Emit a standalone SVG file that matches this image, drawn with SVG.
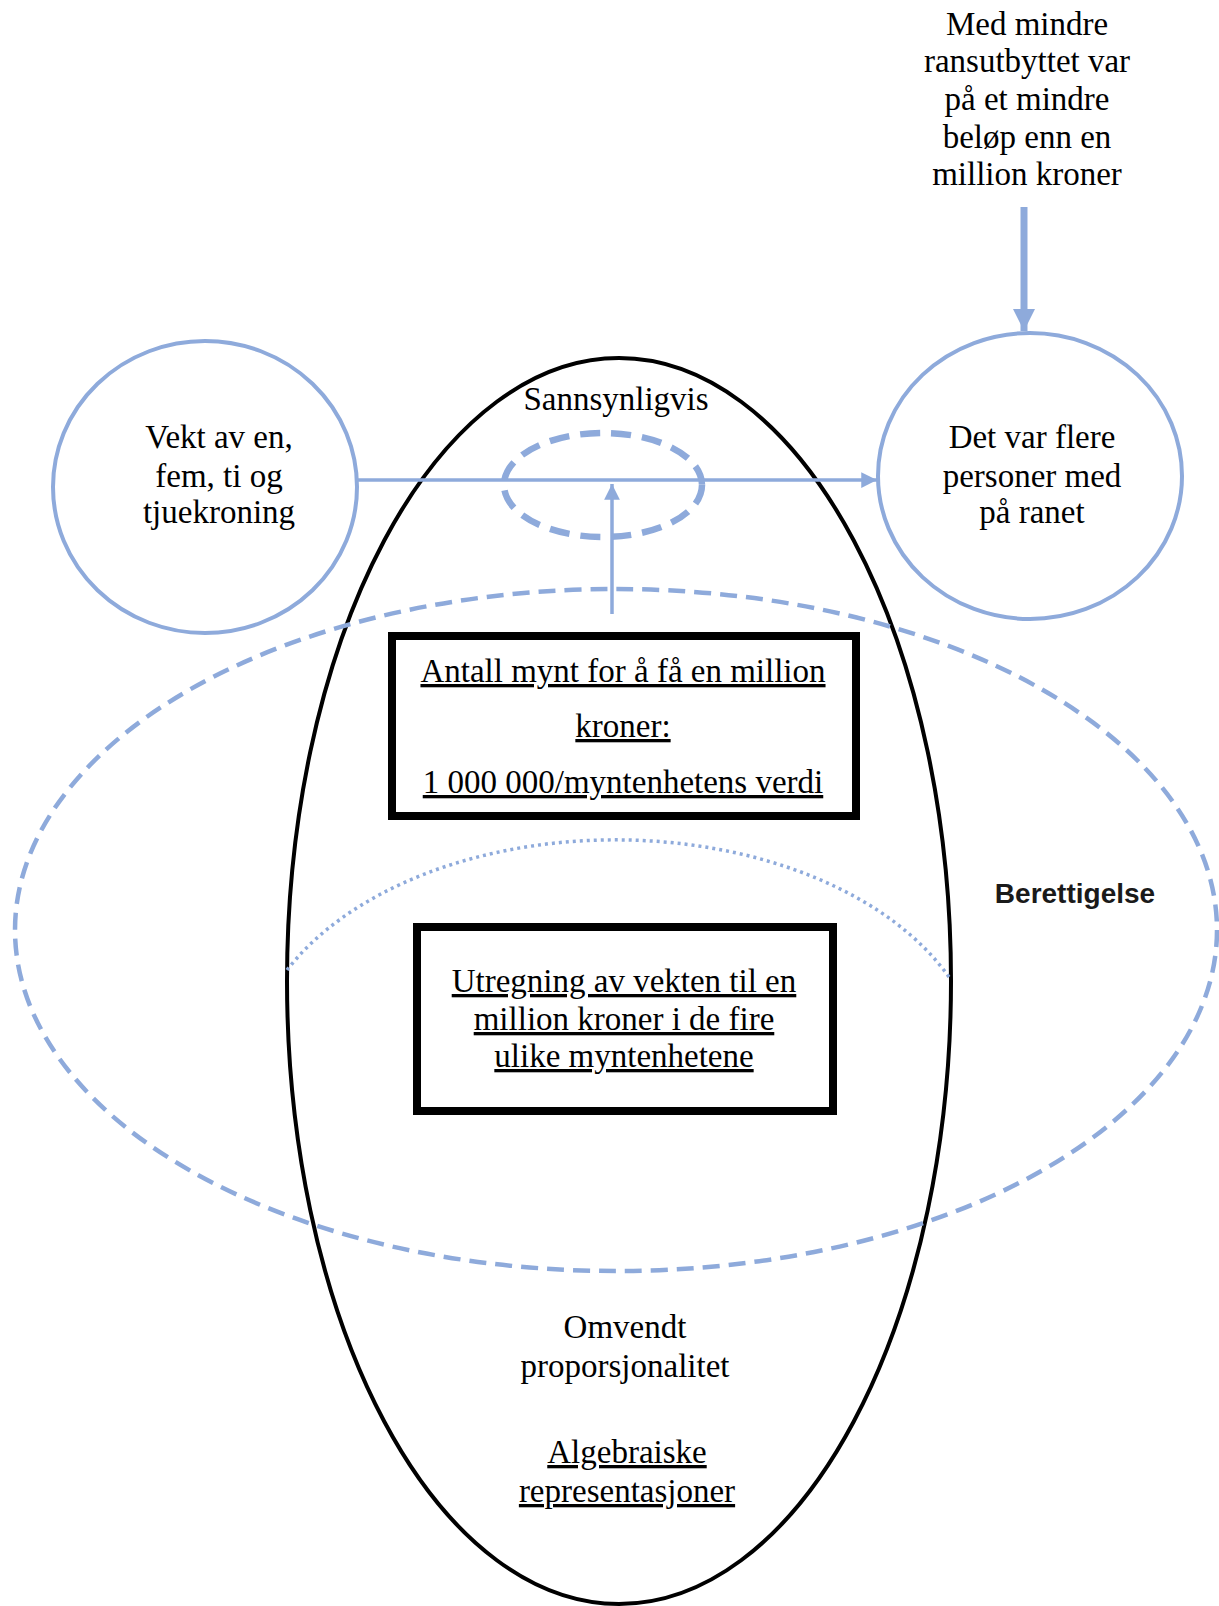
<svg xmlns="http://www.w3.org/2000/svg" width="1219" height="1606" viewBox="0 0 1219 1606">
  <style>
    .t { font-family: "Liberation Serif", "Times New Roman", serif; font-size: 33px; fill: #000; text-anchor: middle; }
    .u { text-decoration: underline; }
    .b { font-family: "Liberation Sans", Arial, sans-serif; font-size: 28px; font-weight: bold; fill: #1a1a1a; text-anchor: middle; }
    .blue { fill: none; stroke: #8eaadb; }
    .box { fill: #fff; stroke: #000; stroke-width: 8; }
  </style>
  <defs>
    <marker id="arr" viewBox="0 0 10 10" refX="10" refY="5" markerWidth="5" markerHeight="4.5" markerUnits="strokeWidth" orient="auto">
      <path d="M0,0 L10,5 L0,10 z" fill="#8eaadb"/>
    </marker>
    <marker id="arrBig" viewBox="0 0 10 10" refX="10" refY="5" markerWidth="3.2" markerHeight="3.6" markerUnits="strokeWidth" orient="auto">
      <path d="M0,0 L10,5 L0,10 z" fill="#8eaadb"/>
    </marker>
  </defs>
  <rect width="1219" height="1606" fill="#fff"/>

  <!-- main oval -->
  <g id="main-oval">
    <ellipse cx="619" cy="981" rx="332" ry="623" fill="none" stroke="#000" stroke-width="4"/>
  </g>

  <!-- justification region -->
  <g id="berettigelse">
    <ellipse class="blue" cx="616" cy="930" rx="601" ry="341" stroke-width="4.5" stroke-dasharray="17 9"/>
    <path class="blue" d="M287,970 A366,233 0 0 1 949,977" stroke-width="3.5" stroke-dasharray="3 4"/>
    <text class="b" x="1075" y="903">Berettigelse</text>
  </g>

  <g id="sannsynligvis">
    <text class="t" x="616" y="410">Sannsynligvis</text>
  </g>

  <!-- connectors -->
  <g id="connectors">
    <line class="blue" x1="358" y1="480" x2="877" y2="480" stroke-width="3.5" marker-end="url(#arr)"/>
    <line class="blue" x1="612" y1="614" x2="612" y2="484" stroke-width="3.5" marker-end="url(#arr)"/>
    <line class="blue" x1="1024" y1="207" x2="1024" y2="331" stroke-width="7" marker-end="url(#arrBig)"/>
  </g>

  <g id="focus-oval">
    <ellipse class="blue" cx="603" cy="485" rx="99" ry="52" stroke-width="6.5" stroke-dasharray="20 11"/>
  </g>

  <g id="vekt">
    <ellipse class="blue" cx="205" cy="487" rx="152" ry="146" stroke-width="4"/>
    <text class="t" x="219" y="448">Vekt av en,</text>
    <text class="t" x="219" y="487">fem, ti og</text>
    <text class="t" x="219" y="523">tjuekroning</text>
  </g>

  <g id="flere-personer">
    <ellipse class="blue" cx="1030" cy="476" rx="152" ry="143" stroke-width="4"/>
    <text class="t" x="1032" y="448">Det var flere</text>
    <text class="t" x="1032" y="487">personer med</text>
    <text class="t" x="1032" y="523">på ranet</text>
  </g>

  <g id="med-mindre">
    <text class="t" x="1027" y="35">Med mindre</text>
    <text class="t" x="1027" y="72">ransutbyttet var</text>
    <text class="t" x="1027" y="110">på et mindre</text>
    <text class="t" x="1027" y="148">beløp enn en</text>
    <text class="t" x="1027" y="185">million kroner</text>
  </g>

  <g id="antall-mynt">
    <rect class="box" x="392" y="636" width="464" height="180"/>
    <text class="t u" x="623" y="682">Antall mynt for å få en million</text>
    <text class="t u" x="623" y="737">kroner:</text>
    <text class="t u" x="623" y="793">1 000 000/myntenhetens verdi</text>
  </g>

  <g id="utregning">
    <rect class="box" x="417" y="927" width="416" height="184"/>
    <text class="t u" x="624" y="992">Utregning av vekten til en</text>
    <text class="t u" x="624" y="1030">million kroner i de fire</text>
    <text class="t u" x="624" y="1067">ulike myntenhetene</text>
  </g>

  <g id="omvendt">
    <text class="t" x="625" y="1338">Omvendt</text>
    <text class="t" x="625" y="1377">proporsjonalitet</text>
  </g>

  <g id="algebraiske">
    <text class="t u" x="627" y="1463">Algebraiske</text>
    <text class="t u" x="627" y="1502">representasjoner</text>
  </g>
</svg>
